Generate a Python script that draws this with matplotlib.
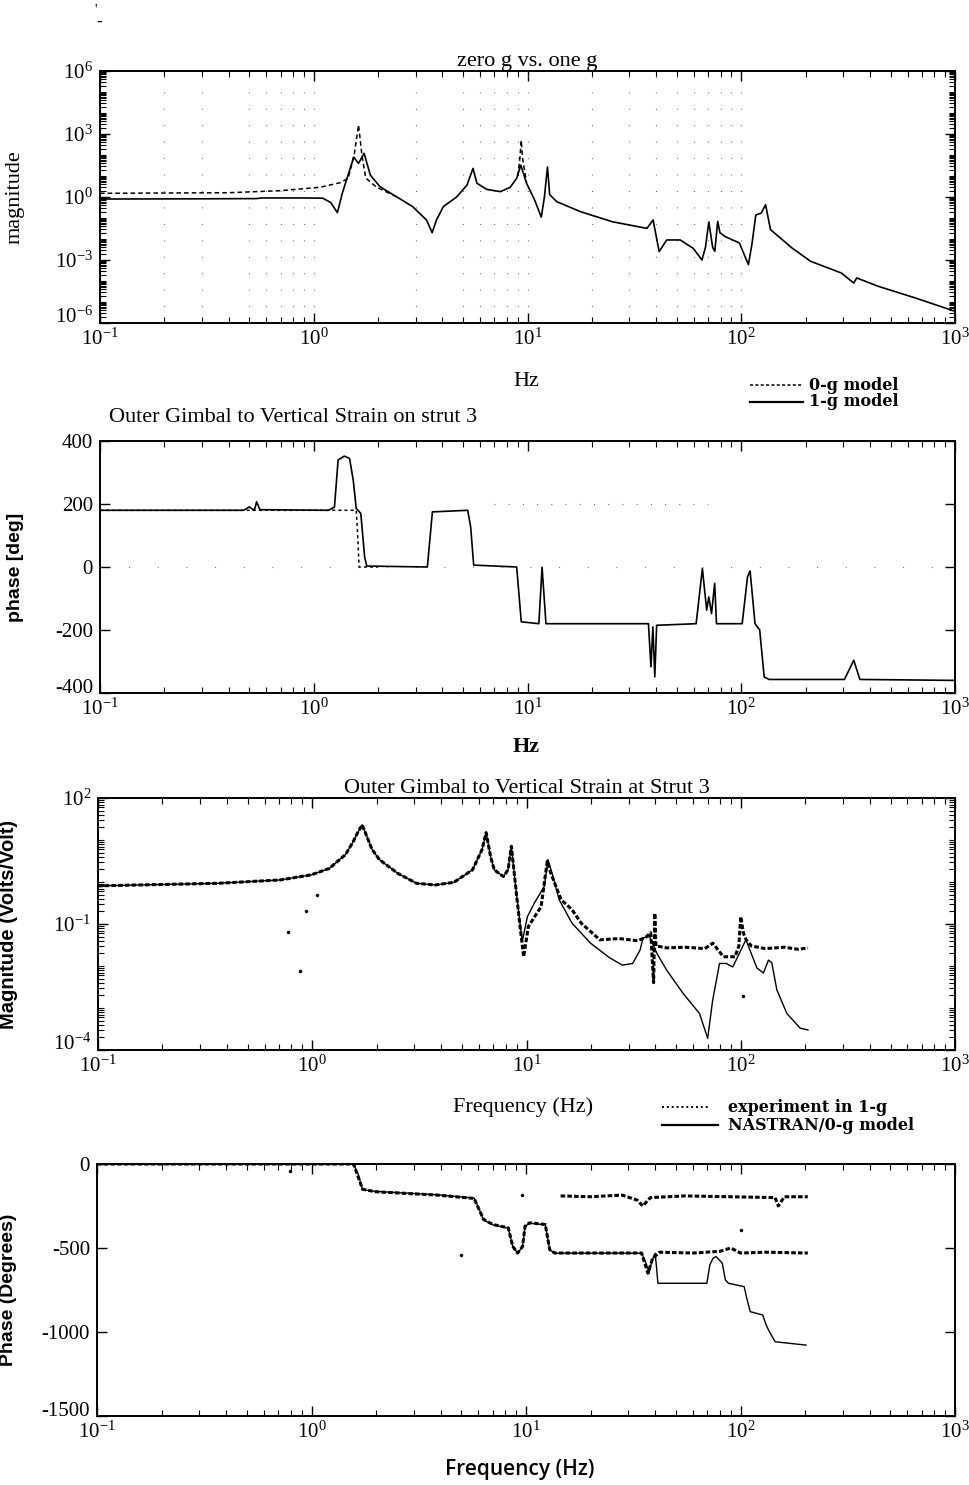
import matplotlib
matplotlib.use("Agg")
import matplotlib.pyplot as plt
from matplotlib.ticker import FixedLocator, LogLocator, NullFormatter
from matplotlib.lines import Line2D
import numpy as np

plt.rcParams['font.family'] = ['Liberation Serif', 'DejaVu Serif']
plt.rcParams['mathtext.fontset'] = 'custom'
plt.rcParams['mathtext.rm'] = 'Liberation Serif'
plt.rcParams['mathtext.it'] = 'Liberation Serif:italic'
plt.rcParams['mathtext.bf'] = 'Liberation Serif:bold'
plt.rcParams['axes.unicode_minus'] = False

#panel 1 - zero g vs one g magnitude
mag1g_f = [0.1, 0.3, 0.54, 0.57, 0.9, 1.1, 1.2, 1.29, 1.36, 1.45, 1.54, 1.62, 1.72, 1.84,
           2.04, 2.45, 2.9, 3.37, 3.58, 3.75, 4.04, 4.66, 5.21, 5.56, 5.8, 6.45, 7.47, 8.3,
           8.9, 9.3, 9.9, 10.8, 11.6, 12.0, 12.4, 12.7, 13.7, 17.7, 25, 36.2, 38.7, 41.3,
           44.8, 51.8, 59.6, 65.5, 68.0, 70.5, 73.5, 75.2, 77.6, 79.5, 84.1, 98, 108,
           112, 117, 124, 130, 137, 173, 211, 294, 336, 347, 437, 653, 1000]
mag1g = [0.8, 0.82, 0.84, 0.9, 0.9, 0.88, 0.55, 0.18, 1.5, 12, 78, 40, 120, 11,
         3.1, 1.0, 0.35, 0.08, 0.02, 0.08, 0.35, 1.0, 3.7, 23, 4.5, 2.3, 1.8, 2.9,
         7.8, 33, 4.5, 0.72, 0.11, 1.0, 27, 1.3, 0.6, 0.2, 0.066, 0.032, 0.08, 0.0025,
         0.009, 0.009, 0.0036, 0.001, 0.004, 0.065, 0.004, 0.0026, 0.069, 0.02, 0.013, 0.0065, 0.0006,
         0.005, 0.14, 0.17, 0.43, 0.028, 0.0037, 0.00087, 0.00024, 0.00008, 0.00014, 0.000056, 0.0000155, 0.0000036]

mag0g_f = [0.1, 0.4, 0.7, 1.07, 1.33, 1.45, 1.55, 1.62, 1.68, 1.75, 1.97, 2.2, 2.45]
mag0g = [1.5, 1.6, 2.0, 2.9, 4.8, 7.8, 120, 2700, 100, 8, 2.9, 1.7, 1.0]
mag0g_peak_f = [9.0, 9.2, 9.35, 9.5, 9.9]
mag0g_peak = [10, 60, 500, 60, 5]

#panel 2 - phase
ph1g_f = [0.1, 0.47, 0.5, 0.52, 0.53, 0.54, 0.56, 1.17, 1.25, 1.3, 1.39, 1.47, 1.53, 1.58,
          1.66, 1.73, 1.77, 3.4, 3.59, 5.25, 5.42, 5.6, 8.9, 9.35, 11.3, 11.7, 12.2, 36.8,
          37.8, 38.6, 39.4, 40.2, 61.5, 65.8, 68.9, 70.5, 72.6, 75.1, 76.6, 101, 107, 110,
          116, 122, 128, 135, 304, 336, 359, 1000]
ph1g = [180, 180, 191, 182, 185, 207, 182, 180, 190, 340, 352, 345, 276, 186,
        170, 32, 3, 0, 175, 180, 128, 6, 0, -174, -180, -1, -180, -180,
        -317, -190, -349, -185, -180, -5, -137, -95, -148, -52, -180, -180, -31, -13,
        -180, -200, -349, -357, -357, -296, -357, -360]
ph0g_f = [0.1, 1.58, 1.6, 1.63, 2.0]
ph0g = [180, 180, 120, 0, 0]

#panel 3 - experiment vs nastran magnitude
nas_f = [0.1, 0.36, 0.71, 0.99, 1.2, 1.43, 1.55, 1.63, 1.71, 1.8, 1.9, 2.06, 2.51, 3.07,
         3.75, 4.58, 5.6, 6.2, 6.48, 6.8, 7.07, 7.8, 8.2, 8.5, 8.9, 9.55, 10.1, 10.9, 12.1,
         12.6, 13.3, 14.2, 16.3, 19.9, 24.3, 28, 31.3, 33.9, 35, 37.5, 38.7, 40.6, 45.1,
         53.9, 64.2, 70.1, 73.9, 79.6, 85.6, 91.8, 98.5, 105.7, 110, 118.9, 127.6, 134.7,
         139.6, 147.4, 164.1, 189.5, 206]
nas_mag = [0.81, 0.93, 1.12, 1.48, 2.1, 4.5, 9, 15, 23, 12, 6, 3.4, 1.6, 0.93,
           0.85, 0.98, 1.95, 5.9, 15, 4, 1.95, 1.35, 1.95, 7.1, 0.78, 0.038, 0.15, 0.32, 0.78,
           3.4, 1.35, 0.38, 0.105, 0.035, 0.016, 0.0105, 0.0115, 0.024, 0.047, 0.05, 0.035, 0.02, 0.008,
           0.0022, 0.00074, 0.00019, 0.0015, 0.0115, 0.0115, 0.0095, 0.02, 0.042, 0.025, 0.009, 0.0068, 0.0138,
           0.012, 0.0027, 0.00074, 0.00033, 0.0003]
exp_f = [0.1, 0.36, 0.71, 0.99, 1.2, 1.43, 1.55, 1.63, 1.71, 1.8, 1.9, 2.06, 2.51, 3.07,
         3.75, 4.58, 5.6, 6.2, 6.48, 6.8, 7.07, 7.8, 8.2, 8.5, 8.9, 9.3, 9.7, 10.2, 11.7,
         12.5, 13.0, 14.5, 16.3, 18, 22, 27, 33, 36, 38, 39.2, 39.7, 40.2, 42, 45, 55, 68,
         74, 83, 94, 98, 100, 103, 106, 112, 130, 160, 185, 206]
exp_mag = [0.81, 0.93, 1.12, 1.48, 2.1, 4.5, 9, 15, 23, 12, 6, 3.4, 1.6, 0.93,
           0.85, 0.98, 1.95, 5.9, 15, 4, 1.95, 1.35, 1.95, 7.1, 0.78, 0.1, 0.0166, 0.087, 0.26,
           3.1, 1.6, 0.38, 0.22, 0.105, 0.042, 0.045, 0.04, 0.048, 0.062, 0.004, 0.18, 0.03, 0.029, 0.027, 0.028, 0.026,
           0.035, 0.0166, 0.0166, 0.03, 0.15, 0.06, 0.042, 0.03, 0.026, 0.028, 0.025, 0.027]
stray3_f = [1.05, 0.94, 0.77, 0.88, 102]
stray3_mag = [0.5, 0.2, 0.066, 0.0074, 0.0019]

#panel 4 - experiment vs nastran phase
nas_ph_f = [0.1, 1.57, 1.65, 1.73, 1.98, 3.85, 5.73, 6.1, 6.34, 7.0, 8.27, 8.67, 9.14, 9.64,
            9.9, 10.4, 12.3, 12.9, 13.6, 34.6, 36.5, 37.5, 38.5, 40.0, 40.5, 41.2, 69.7, 72,
            74.5, 77, 82.2, 85, 87.9, 104, 107, 111, 127, 131, 135, 145, 202]
nas_ph = [0, 0, -60, -153, -163, -183, -203, -280, -332, -362, -382, -491, -531, -491,
          -372, -352, -362, -511, -531, -531, -600, -650, -580, -531, -600, -710, -710, -600,
          -561, -551, -590, -690, -710, -730, -800, -879, -899, -950, -988, -1058, -1078]
exp_ph_f = [0.1, 1.57, 1.73, 1.98, 3.85, 5.73, 6.34, 7.0, 8.27, 8.67, 9.14, 9.64, 9.9, 10.4,
            12.3, 12.9, 13.6, 34.6, 37, 39, 42, 60, 80, 90, 100, 130, 206]
exp_ph = [0, 0, -150, -165, -185, -205, -330, -360, -380, -490, -530, -490, -370, -350,
          -360, -510, -530, -530, -650, -560, -525, -530, -520, -500, -530, -525, -530]
exp_up_f = [14.5, 20, 28, 33, 35, 38, 55, 90, 145, 150, 160, 206]
exp_up = [-190, -195, -185, -215, -250, -200, -190, -195, -200, -250, -195, -195]
stray4_f = [0.79, 5.0, 100, 9.6]
stray4_ph = [-44, -541, -392, -183]

#grid dots that show up on panel 1
grid_x = [0.2, 0.3, 0.5, 0.6, 0.7, 0.8, 0.9, 1, 3, 5, 6, 7, 8, 9, 10, 20, 30, 40, 50, 60, 70, 80, 90, 100]

W, H = 969, 1485
fig = plt.figure(figsize=(W / 100, H / 100), dpi=100)


def box(top, bottom, left=100, right=955):
    return [left / W, 1 - bottom / H, (right - left) / W, (bottom - top) / H]


def style(ax):
    ax.set_xscale('log')
    ax.set_xlim(0.1, 1000)
    ax.xaxis.set_major_locator(LogLocator(base=10, numticks=10))
    ax.xaxis.set_minor_locator(LogLocator(base=10, subs=np.arange(2, 10), numticks=100))
    ax.xaxis.set_minor_formatter(NullFormatter())
    ax.tick_params(which='both', direction='in', top=True, right=True, labelsize=15)
    ax.tick_params(which='major', length=7, width=1)
    ax.tick_params(which='minor', length=4, width=0.8)
    ax.tick_params(axis='y', pad=5)
    ax.tick_params(axis='x', pad=4)
    for s in ax.spines.values():
        s.set_linewidth(1.4)


def lift_bottom_label(ax):
    #the lowest y label sits on the axis line, above the 10^-1 label
    ax.yaxis.get_major_ticks()[0].label1.set_verticalalignment('baseline')


def log_y(ax, lo, hi, majors):
    ax.set_yscale('log')
    ax.set_ylim(lo, hi)
    ax.yaxis.set_major_locator(FixedLocator(majors))
    ax.yaxis.set_minor_locator(LogLocator(base=10, subs=np.arange(1, 10), numticks=100))
    ax.yaxis.set_minor_formatter(NullFormatter())


#Chart #1
ax1 = fig.add_axes(box(71, 323))
style(ax1)
log_y(ax1, 1e-6, 1e6, [1e-6, 1e-3, 1, 1e3, 1e6])
ax1.vlines(grid_x, 1e-6, 1e6, colors='0.35', linewidth=0.8, linestyles=[(0, (0.8, 14))])
ax1.plot(mag0g_f, mag0g, color='black', lw=1.1, ls=(0, (3, 2)))
ax1.plot(mag0g_peak_f, mag0g_peak, color='black', lw=1.1, ls=(0, (3, 2)))
ax1.plot(mag1g_f, mag1g, color='black', lw=1.2)
ax1.set_title('zero g vs. one g', fontsize=16, pad=1)
ax1.set_ylabel('magnitude', fontsize=16)
ax1.yaxis.set_label_coords(-0.088, 0.5)

#Chart #2
ax2 = fig.add_axes(box(441, 693))
style(ax2)
ax2.set_ylim(-400, 400)
ax2.set_yticks([-400, -200, 0, 200, 400])
ax2.axhline(0, color='0.35', lw=0.8, ls=(0, (0.8, 25)))
ax2.hlines(200, 7, 70, colors='0.35', linewidth=0.8, linestyles=[(0, (0.8, 12))])
ax2.plot(ph0g_f, ph0g, color='black', lw=1.1, ls=(0, (2, 2)))
ax2.plot(ph1g_f, ph1g, color='black', lw=1.2)
ax2.set_ylabel('phase [deg]', fontsize=14, family='Liberation Sans', weight='bold')
ax2.yaxis.set_label_coords(-0.089, 0.5)

#Chart #3
ax3 = fig.add_axes(box(798, 1050, left=98))
style(ax3)
log_y(ax3, 1e-4, 1e2, [1e-4, 1e-1, 1e2])
ax3.plot(exp_f, exp_mag, color='black', lw=2.2, ls=(0, (1.5, 0.7)))
ax3.plot(nas_f, nas_mag, color='black', lw=1.0)
ax3.plot(stray3_f, stray3_mag, ls='none', marker='.', ms=3, color='black')
ax3.set_title('Outer Gimbal to Vertical Strain at Strut 3', fontsize=16, pad=1)
ax3.set_ylabel('Magnitude (Volts/Volt)', fontsize=14.5, family='Liberation Sans', weight='bold')
ax3.yaxis.set_label_coords(-0.093, 0.5)

#Chart #4
ax4 = fig.add_axes(box(1164, 1416, left=97))
style(ax4)
ax4.set_ylim(-1500, 0)
ax4.set_yticks([-1500, -1000, -500, 0])
ax4.plot(exp_ph_f, exp_ph, color='black', lw=2.2, ls=(0, (1.5, 0.7)))
ax4.plot(exp_up_f, exp_up, color='black', lw=2.2, ls=(0, (1.5, 0.7)))
ax4.plot(nas_ph_f, nas_ph, color='black', lw=1.0)
ax4.plot(stray4_f, stray4_ph, ls='none', marker='.', ms=3, color='black')
ax4.set_ylabel('Phase (Degrees)', fontsize=14, family='Liberation Sans', weight='bold')
ax4.yaxis.set_label_coords(-0.093, 0.5)

for ax in [ax1, ax2, ax3, ax4]:
    lift_bottom_label(ax)

#labels and legends placed on the page
fig.text(526 / W, 1 - 382 / H, 'Hz', fontsize=16, ha='center', va='center')
fig.text(109 / W, 1 - 417 / H, 'Outer Gimbal to Vertical Strain on strut 3', fontsize=16, va='center')
fig.text(526 / W, 1 - 747 / H, 'Hz', fontsize=16, ha='center', va='center', weight='bold')
fig.text(523 / W, 1 - 1107 / H, 'Frequency (Hz)', fontsize=16, ha='center', va='center')
fig.text(520 / W, 1 - 1470 / H, 'Frequency (Hz)', fontsize=15, ha='center', va='center',
         family='Open Sans', weight='semibold')

legend_font = dict(family='DejaVu Serif', weight='bold', fontsize=11.5, va='center')
fig.add_artist(Line2D([750 / W, 803 / W], [1 - 385 / H] * 2, color='black', lw=1.1, ls=(0, (2, 1.5))))
fig.add_artist(Line2D([750 / W, 803 / W], [1 - 402 / H] * 2, color='black', lw=1.6))
fig.text(809 / W, 1 - 385 / H, '0-g model', **legend_font)
fig.text(809 / W, 1 - 402 / H, '1-g model', **legend_font)

fig.add_artist(Line2D([662 / W, 710 / W], [1 - 1107 / H] * 2, color='black', lw=1.4, ls=(0, (1, 1.5))))
fig.add_artist(Line2D([662 / W, 718 / W], [1 - 1125 / H] * 2, color='black', lw=1.6))
fig.text(728 / W, 1 - 1107 / H, 'experiment in 1-g', **legend_font)
fig.text(728 / W, 1 - 1125 / H, 'NASTRAN/0-g model', **legend_font)

#scan marks at the top of the page
fig.text(96 / W, 1 - 10 / H, "'", fontsize=10, ha='center', va='center')
fig.text(99 / W, 1 - 23 / H, '-', fontsize=12, ha='center', va='center', weight='bold')

fig.savefig('out.png', dpi=100)
